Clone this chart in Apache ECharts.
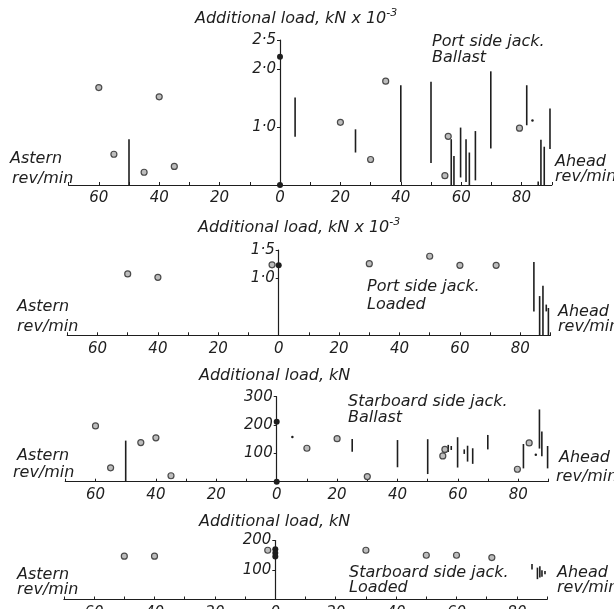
<!DOCTYPE html>
<html><head><meta charset="utf-8">
<script src="https://cdn.jsdelivr.net/npm/echarts@6/dist/echarts.min.js"></script>
<style>html,body{margin:0;padding:0;background:#fff}#c{width:614px;height:609px}</style>
</head><body><div id="c"></div>
<script>
// ---------- DATA ----------
const xTickLabels = [-60, -40, -20, 0, 20, 40, 60, 80];

// Panel 1: Port side jack, Ballast (kN x 10^-3)
const p1YTicks = [1, 2, 2.5];
const p1Circles = [[-60,1.68],[-55,0.53],[-45,0.22],[-40,1.52],[-35,0.32],[20,1.08],[30,0.44],[35,1.79],[54.6,0.16],[55.7,0.84],[79.3,0.98]];
const p1Dots = [[0,2.21],[0,0]];
const p1Small = [[83.6,1.11]];
const p1Lines = [[-50,0,0.79],[5,0.83,1.51],[25,0.56,0.96],[40,0.05,1.72],[50,0.38,1.78],[56.7,0,0.79],[57.6,0,0.5],[59.8,0.13,0.99],[61.6,0.05,0.79],[62.7,0,0.56],[64.7,0.08,0.93],[69.8,0.63,1.96],[81.7,1.03,1.72],[85.5,0,0.06],[86.4,0,0.78],[87.5,0,0.66],[89.4,0.62,1.32]];

// Panel 2: Port side jack, Loaded (kN x 10^-3)
const p2YTicks = [1, 1.5];
const p2Circles = [[-50,1.08],[-40,1.02],[-2.2,1.24],[30,1.26],[50,1.39],[60,1.23],[72,1.23]];
const p2Dots = [[0,1.23]];
const p2Small = [];
const p2Lines = [[84.5,0.42,1.29],[86.4,0,0.69],[87.5,0,0.87],[88.6,0.42,0.54],[89.3,0,0.48]];

// Panel 3: Starboard side jack, Ballast (kN)
const p3YTicks = [100, 200, 300];
const p3Circles = [[-60,197],[-55,49],[-45,138],[-40,155],[-35,21],[10,118],[20,152],[30,18],[55,91],[55.7,114],[79.7,44],[83.6,137]];
const p3Dots = [[0,212],[0,0]];
const p3Small = [[5.2,158],[85.8,95]];
const p3Lines = [[-50,0,145],[25,106,151],[40,51,147],[50,27,150],[56.8,105,130],[57.8,112,126],[59.9,50,157],[62.1,98,114],[63.2,71,127],[64.9,63,118],[69.9,114,165],[81.7,47,133],[87,117,255],[87.8,90,177],[89.7,47,126]];

// Panel 4: Starboard side jack, Loaded (kN)
const p4YTicks = [100, 200];
const p4Circles = [[-50,147],[-40,147],[-2.5,167],[30,167],[50,150],[60,150],[71.7,142]];
const p4Dots = [[0,170],[0,158],[0,146]];
const p4Small = [];
const p4Lines = [[85,102,120],[86.8,69,108],[87.6,75,113],[88.3,77,99],[89.3,86,97]];

// ---------- CHART ----------
const FONT = 'DejaVu Sans';
const INK = '#1e1e1e';
const X_MIN = -70, X_MAX = 90, GRID_W = 483.2;
const dotFmt = v => v.toFixed(1).replace('.', '\u00B7');
const intFmt = v => String(v);

const panels = [
  {left:68.6, top:40,    height:145,  yMax:2.5, ticks:p1YTicks, fmt:dotFmt, circles:p1Circles, dots:p1Dots, small:p1Small, lines:p1Lines},
  {left:67.3, top:250,   height:85.3, yMax:1.5, ticks:p2YTicks, fmt:dotFmt, circles:p2Circles, dots:p2Dots, small:p2Small, lines:p2Lines},
  {left:65.3, top:396.7, height:85,   yMax:300, ticks:p3YTicks, fmt:intFmt, circles:p3Circles, dots:p3Dots, small:p3Small, lines:p3Lines},
  {left:63.9, top:540.5, height:59,   yMax:200, ticks:p4YTicks, fmt:intFmt, circles:p4Circles, dots:p4Dots, small:p4Small, lines:p4Lines}
];
// y axis sits at x = 0: shift it right from the grid's left edge
const yOffset = -(0 - X_MIN) / (X_MAX - X_MIN) * GRID_W;

const grid = [], xAxis = [], yAxis = [], series = [];
panels.forEach((p, i) => {
  grid.push({left:p.left, top:p.top, width:GRID_W, height:p.height, outerBoundsMode:'none', containLabel:false});
  xAxis.push({
    gridIndex:i, type:'value', min:X_MIN, max:X_MAX, interval:10,
    axisLine:{show:true, onZero:false, lineStyle:{color:INK, width:1.2}},
    axisTick:{show:true, inside:true, length:3, lineStyle:{color:INK}},
    axisLabel:{customValues:xTickLabels, formatter:v => String(Math.abs(v)), fontFamily:FONT, fontStyle:'italic', fontSize:15, color:INK, margin:6},
    splitLine:{show:false}
  });
  yAxis.push({
    gridIndex:i, type:'value', min:0, max:p.yMax, position:'left', offset:yOffset,
    axisLine:{show:true, onZero:false, lineStyle:{color:INK, width:1.2}},
    axisTick:{show:true, customValues:p.ticks, length:3, lineStyle:{color:INK}},
    axisLabel:{customValues:p.ticks, formatter:p.fmt, fontFamily:FONT, fontStyle:'italic', fontSize:15, color:INK, margin:4},
    splitLine:{show:false}
  });
  series.push({
    type:'custom', xAxisIndex:i, yAxisIndex:i, data:p.lines, encode:{x:0, y:[1,2]}, clip:false,
    renderItem:(params, api) => {
      const x = api.value(0);
      const a = api.coord([x, api.value(1)]);
      const b = api.coord([x, api.value(2)]);
      return {type:'line', shape:{x1:a[0], y1:a[1], x2:b[0], y2:b[1]}, style:{stroke:INK, lineWidth:1.6}};
    }
  });
  series.push({type:'scatter', xAxisIndex:i, yAxisIndex:i, data:p.circles, symbol:'circle', symbolSize:6,
    itemStyle:{color:'#bdbdbd', borderColor:'#4a4a4a', borderWidth:1.2, opacity:1}});
  series.push({type:'scatter', xAxisIndex:i, yAxisIndex:i, data:p.dots, symbol:'circle', symbolSize:6,
    itemStyle:{color:INK, opacity:1}, z:5});
  series.push({type:'scatter', xAxisIndex:i, yAxisIndex:i, data:p.small, symbol:'circle', symbolSize:2.5,
    itemStyle:{color:INK, opacity:1}});
});

const txt = (t, x, y) => ({type:'text', x:x, y:y, silent:true,
  style:{text:t, font:'italic 16px "' + FONT + '"', fill:INK, verticalAlign:'middle'}});
const supTitle = (x, y) => ({type:'text', x:x, y:y, silent:true,
  style:{text:'{n|Additional load, kN x 10}{s|-3}', verticalAlign:'middle', fill:INK,
    rich:{n:{font:'italic 16px "' + FONT + '"', fill:INK, lineHeight:22},
          s:{font:'italic 11px "' + FONT + '"', fill:INK, lineHeight:11, verticalAlign:'top'}}}});

const graphic = [
  supTitle(195, 19),
  txt('Port side jack.', 432, 42), txt('Ballast', 432, 58),
  txt('Astern', 10, 159), txt('rev/min', 12, 179),
  txt('Ahead', 555, 162), txt('rev/min', 555, 177),

  supTitle(198, 228),
  txt('Port side jack.', 367, 287), txt('Loaded', 367, 305),
  txt('Astern', 17, 307), txt('rev/min', 17, 327),
  txt('Ahead', 558, 312), txt('rev/min', 558, 327),

  txt('Additional load, kN', 199, 376),
  txt('Starboard side jack.', 348, 402), txt('Ballast', 348, 418),
  txt('Astern', 17, 456), txt('rev/min', 13, 473),
  txt('Ahead', 559, 458), txt('rev/min', 556, 477),

  txt('Additional load, kN', 199, 522),
  txt('Starboard side jack.', 349, 573), txt('Loaded', 349, 588),
  txt('Astern', 17, 575), txt('rev/min', 17, 590),
  txt('Ahead', 557, 573), txt('rev/min', 557, 588)
];

const chart = echarts.init(document.getElementById('c'), null, {renderer:'canvas'});
chart.setOption({
  backgroundColor:'#ffffff', animation:false,
  grid, xAxis, yAxis, series, graphic
});
</script></body></html>
